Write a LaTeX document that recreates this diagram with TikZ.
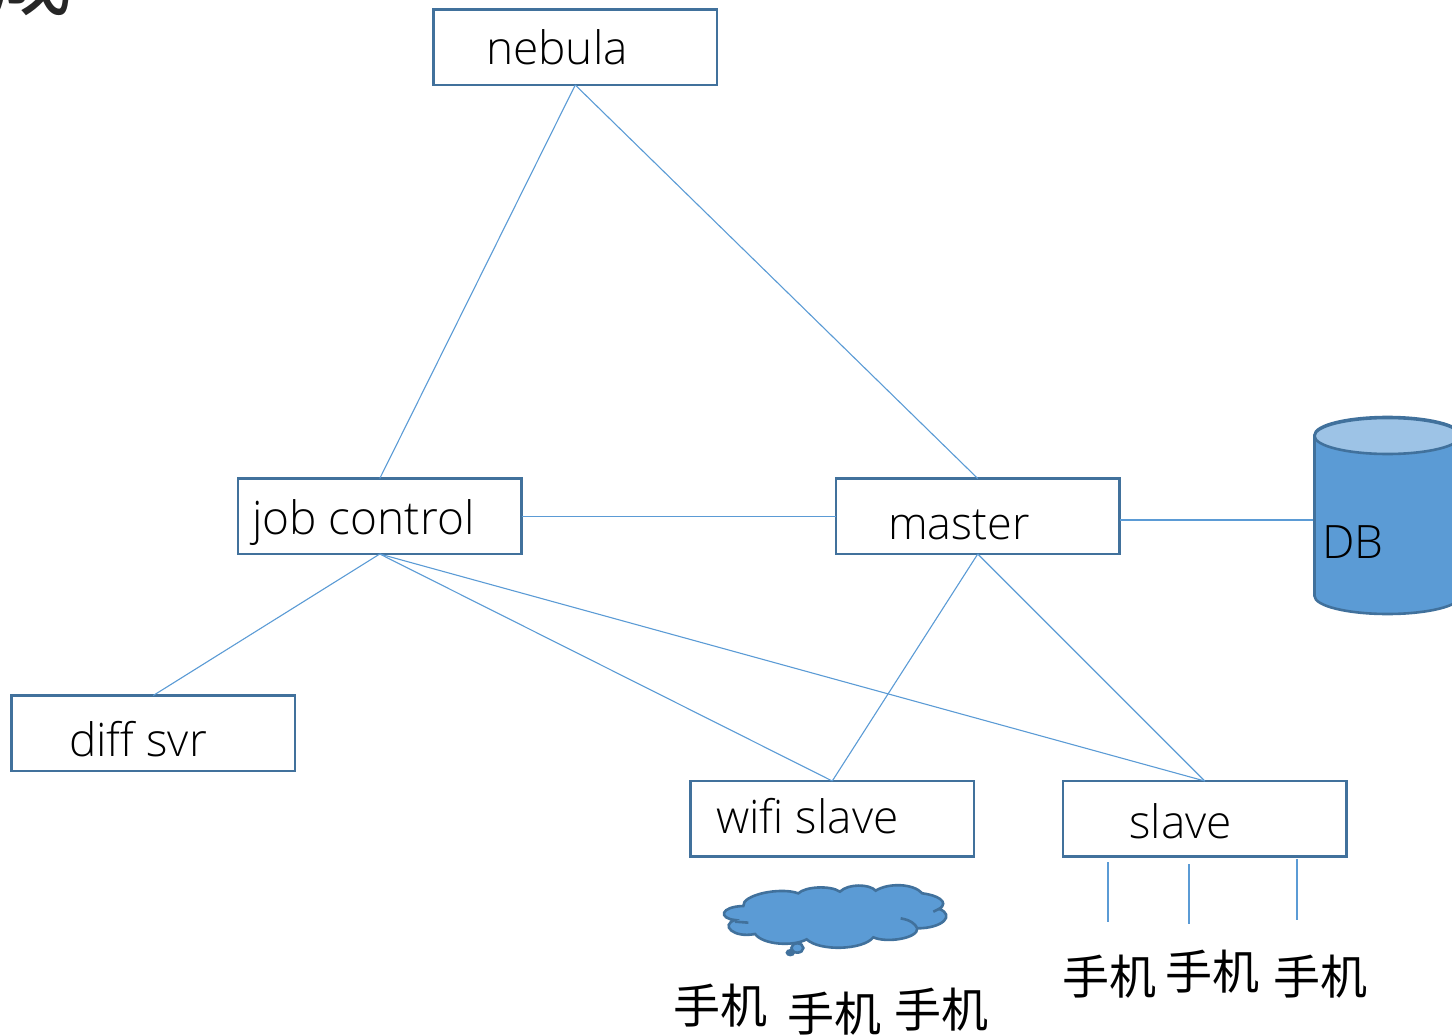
\documentclass[tikz,border=0pt]{standalone}
\usepackage{fontspec}
\setmainfont{Open Sans Light}[BoldFont={Open Sans}]
\newfontfamily\cjk{Noto Sans CJK SC}
\definecolor{linkblue}{HTML}{5B9BD5}
\definecolor{edgeblue}{HTML}{41719C}
\definecolor{topblue}{HTML}{9DC3E6}
\definecolor{inkdark}{HTML}{262626}
\tikzset{
  box/.style={draw=edgeblue,line width=2.6pt,fill=white,minimum width=283.5pt,minimum height=75.5pt,inner sep=0pt,outer sep=0pt,anchor=north west},
  label/.style={inner sep=0pt,font=\fontsize{46}{50}\selectfont,text=black,anchor=base west},
  phone/.style={inner sep=0pt,font=\fontsize{47}{50}\cjk,text=black,anchor=base west},
  link/.style={draw=linkblue,line width=1.1pt},
  shapeline/.style={draw=edgeblue,line width=2.6pt,fill=linkblue}
}
\begin{document}
\begin{tikzpicture}[x=1pt,y=-1pt]
\useasboundingbox (0,0) rectangle (1452,1035);
\clip (0,0) rectangle (1452,1035);
\node[inner sep=0pt,anchor=base west,font=\fontsize{84}{90}\cjk,text=inkdark] (title) at (-12,10) {成};
% boxes
\node[box] (neb) at (433.5,9.5) {};
\node[box] (job) at (238,478.5) {};
\node[box] (mas) at (836,478.5) {};
\node[box] (dif) at (11.5,695.5) {};
\node[box] (wif) at (690.5,781) {};
\node[box] (sla) at (1063,781) {};
% free-end coordinates
\coordinate (dbl) at (1314,520);
\coordinate (masr) at (1120,520);
\coordinate (p1a) at (1108,862); \coordinate (p1b) at (1108,922);
\coordinate (p2a) at (1189,864); \coordinate (p2b) at (1189,924);
\coordinate (p3a) at (1297,859); \coordinate (p3b) at (1297,920);
% connectors
\draw[link] (neb.south) -- (job.north);
\draw[link] (neb.south) -- (mas.north);
\draw[link] (job.east) -- (mas.west);
\draw[link] (masr) -- (dbl);
\draw[link] (job.south) -- (dif.north);
\draw[link] (job.south) -- (wif.north);
\draw[link] (job.south) -- (sla.north);
\draw[link] (mas.south) -- (wif.north);
\draw[link] (mas.south) -- (sla.north);
\draw[link] (p1a) -- (p1b);
\draw[link] (p2a) -- (p2b);
\draw[link] (p3a) -- (p3b);
% labels
\node[label] (tneb) at (486,65) {nebula};
\node[label] (tjob) at (252,534) {job control};
\node[label,font=\fontsize{45}{50}\selectfont] (tmas) at (888,539) {master};
\node[label] (tdif) at (69,756) {diff svr};
\node[label] (twif) at (716,833) {wifi slave};
\node[label] (tsla) at (1129,838) {slave};
% database
\draw[shapeline] (1314.5,435) -- (1314.5,596) arc[start angle=180,end angle=0,x radius=73,y radius=18] -- (1460.5,435) arc[start angle=0,end angle=-180,x radius=73,y radius=18] -- cycle;
\draw[edgeblue,line width=2.6pt,fill=topblue] (1387.5,436) ellipse[x radius=73,y radius=18];
\node[label] (tdb) at (1322,558) {DB};
% cloud
\begin{scope}[shift={(680,860)},x=0.3333pt,y=-0.3333pt]
\draw[shapeline]
 (190,138) .. controls (185,105) and (300,80) .. (355,100)
 .. controls (375,80) and (450,75) .. (480,95)
 .. controls (505,70) and (570,72) .. (587,92)
 .. controls (625,68) and (700,70) .. (727,100)
 .. controls (770,105) and (810,125) .. (778,147)
 .. controls (825,165) and (790,205) .. (712,205)
 .. controls (715,235) and (620,250) .. (580,232)
 .. controls (550,270) and (420,275) .. (380,238)
 .. controls (340,260) and (250,255) .. (225,222)
 .. controls (160,235) and (120,195) .. (165,180)
 .. controls (115,175) and (120,140) .. (190,138) -- cycle;
\draw[edgeblue,line width=2.6pt] (165,185) -- (205,188);
\draw[edgeblue,line width=2.6pt] (760,155) -- (785,143);
\draw[edgeblue,line width=2.6pt] (662,175) .. controls (690,180) and (705,190) .. (712,205);
\draw[shapeline] (352,264) ellipse[x radius=18,y radius=14];
\draw[shapeline,fill=edgeblue] (331,278) ellipse[x radius=10,y radius=7];
\end{scope}
% phones
\node[phone] (ph1) at (673,1023) {手机};
\node[phone] (ph2) at (787,1031) {手机};
\node[phone] (ph3) at (894,1027) {手机};
\node[phone] (ph4) at (1062,994) {手机};
\node[phone] (ph5) at (1165,989) {手机};
\node[phone] (ph6) at (1273,994) {手机};
\end{tikzpicture}
\end{document}
